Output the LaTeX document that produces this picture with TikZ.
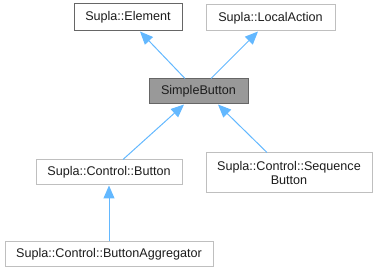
\documentclass[tikz,border=0pt]{standalone}
\usepackage{fontspec}
\setmainfont{Liberation Sans}
\usetikzlibrary{arrows.meta}
\definecolor{edgeblue}{HTML}{63B8FF}
\definecolor{boxdark}{HTML}{666666}
\definecolor{boxlight}{HTML}{BFBFBF}
\definecolor{boxfill}{HTML}{999999}
\definecolor{txt}{HTML}{1C1C1C}
\begin{document}
\begin{tikzpicture}[x=1pt,y=-1pt,
  cls/.style={draw=boxlight, line width=1pt, fill=white, inner sep=0pt,
    font=\fontsize{12.6}{14.5}\selectfont, text=txt, align=center},
  docd/.style={cls, draw=boxdark},
  self/.style={cls, draw=boxdark, fill=boxfill},
  inh/.style={draw=edgeblue, line width=1pt,
    -{Triangle[length=13pt,width=11pt,fill=edgeblue]}}]
\useasboundingbox (0,0) rectangle (378,272);

\node[docd, minimum width=108pt, minimum height=27pt] (el) at (128,17.5) {Supla::Element};
\node[cls, minimum width=129pt, minimum height=26pt] (la) at (270.5,18) {Supla::LocalAction};
\node[self, minimum width=99pt, minimum height=25pt] (sb) at (198.5,91.5) {SimpleButton};
\node[cls, minimum width=146pt, minimum height=25pt] (btn) at (109,172.5) {Supla::Control::Button};
\node[cls, minimum width=166pt, minimum height=40pt] (seq) at (289,173) {Supla::Control::Sequence\\Button};
\node[cls, minimum width=208pt, minimum height=25pt] (agg) at (109,254.5) {Supla::Control::ButtonAggregator};

\draw[inh] ([xshift=-13.5pt]sb.north) -- ([xshift=12pt]el.south);
\draw[inh] ([xshift=12.5pt]sb.north) -- ([xshift=-12.5pt]la.south);
\draw[inh] ([xshift=14pt]btn.north) -- ([xshift=-14.5pt]sb.south);
\draw[inh] ([xshift=-22pt]seq.north) -- ([xshift=19.5pt]sb.south);
\draw[inh] (agg.north) -- (btn.south);
\end{tikzpicture}
\end{document}
